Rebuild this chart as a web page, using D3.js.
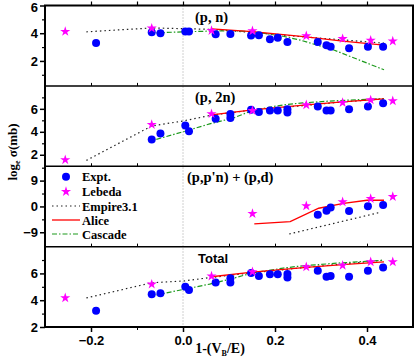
<!DOCTYPE html>
<html>
<head>
<meta charset="utf-8">
<script src="https://cdn.jsdelivr.net/npm/d3@7/dist/d3.min.js"></script>
<style>
  body { margin: 0; background: #fff; }
  svg { display: block; }
</style>
</head>
<body>
<svg id="chart"></svg>
<script>
// experimental points (same x for every panel, null = not measured)
const xExpt = [-0.189, -0.068, -0.049, 0.005, 0.013, 0.071, 0.103, 0.148, 0.165, 0.189, 0.206, 0.227, 0.293, 0.312, 0.321, 0.361, 0.402, 0.435];
const pnExpt = [3.29, 4.07, 4.00, 4.12, 4.12, 3.93, 3.95, 3.84, 3.86, 3.57, 3.67, 3.36, 3.36, 3.14, 3.03, 2.91, 3.03, 3.03];
const p2nExpt = [null, 3.34, 3.85, 4.54, 4.05, 5.14, 5.55, 5.91, 5.72, 5.85, 5.85, 5.97, 6.20, 5.85, 5.85, 5.97, 6.20, 6.49];
const ppnExpt = [null, null, null, null, null, null, null, null, null, null, null, null, -2.86, -1.46, -0.40, -1.57, 0.07, 0.50];
const totExpt = [3.21, 4.44, 4.52, 5.00, 4.76, 5.33, 5.63, 6.04, 5.80, 5.93, 5.93, 5.95, 6.19, 5.75, 5.80, 5.75, 6.19, 6.44];
// second measurement at a few energies
const extraX = [0.103, 0.227];
const p2nExtra = [5.20, 5.68];
const totExtra = [5.33, 5.70];

// Lebeda
const xLeb = [-0.256, -0.068, 0.062, 0.151, 0.268, 0.347, 0.408, 0.456];
const pnLeb = [4.12, 4.36, 4.19, 4.17, 3.81, 3.60, 3.48, 3.43];
const p2nLeb = [1.56, 4.63, 5.57, 5.85, 6.34, 6.54, 6.77, 6.69];
const ppnLeb = [null, null, null, -2.5, 0.17, 1.57, 2.70, 3.40];
const totLeb = [4.17, 5.19, 5.80, 6.12, 6.49, 6.60, 6.86, 6.86];

// Empire3.1
const xEmp = [-0.21, -0.068, 0, 0.062, 0.151, 0.268, 0.347, 0.437];
const pnEmp = [4.10, 4.38, 4.33, 4.28, 4.05, 3.72, 3.52, 3.28];
const p2nEmp = [1.51, 4.51, 4.94, 5.45, 5.90, 6.30, 6.60, 6.86];
const totEmp = [4.17, 5.30, 5.43, 5.70, 6.05, 6.45, 6.70, 6.99];
const xEmpPpn = [0.231, 0.328, 0.43];
const ppnEmp = [-9.6, -5.9, -2.0];

// Alice
const xAli = [0.062, 0.151, 0.268, 0.347, 0.437];
const pnAli = [4.31, 4.12, 3.74, 3.43, 3.14];
const p2nAli = [5.48, 5.91, 6.34, 6.60, 6.86];
const totAli = [5.75, 6.10, 6.45, 6.65, 6.86];
const xAliPpn = [0.155, 0.233, 0.295, 0.349, 0.400, 0.437];
const ppnAli = [-6.1, -5.3, -0.63, 1.1, 2.16, 2.16];

// Cascade
const xCas = [-0.058, 0, 0.058, 0.109, 0.151, 0.182, 0.218, 0.255, 0.328, 0.437];
const pnCas = [4.03, 4.10, 4.15, 4.19, 4.10, 3.96, 3.78, 3.50, 2.79, 1.36];
const p2nCas = [3.34, 4.00, 4.69, 5.20, 5.85, 6.10, 6.34, 6.50, 6.70, 6.90];
const totCas = [4.39, 4.80, 5.20, 5.63, 6.04, 6.20, 6.40, 6.55, 6.75, 6.99];

const xTicks = [-0.2, 0.0, 0.2, 0.4];
const legendNames = ["Expt.", "Lebeda", "Empire3.1", "Alice", "Cascade"];

const zip = (xs, ys) => xs.map((x, i) => [x, ys[i]]).filter(d => d[1] != null);

const panels = [
  { title: "(p, n)", domain: [0.2, 6], major: [2, 4, 6], minor: [1, 3, 5],
    expt: zip(xExpt, pnExpt), leb: zip(xLeb, pnLeb),
    emp: zip(xEmp, pnEmp), ali: zip(xAli, pnAli), cas: zip(xCas, pnCas) },
  { title: "(p, 2n)", domain: [1, 8], major: [2, 4, 6], minor: [3, 5, 7],
    expt: zip(xExpt, p2nExpt).concat(zip(extraX, p2nExtra)), leb: zip(xLeb, p2nLeb),
    emp: zip(xEmp, p2nEmp), ali: zip(xAli, p2nAli), cas: zip(xCas, p2nCas) },
  { title: "(p,p'n) + (p,d)", domain: [-14, 14], major: [-9, 0, 9], minor: [-4.5, 4.5, 13.5],
    expt: zip(xExpt, ppnExpt), leb: zip(xLeb, ppnLeb),
    emp: zip(xEmpPpn, ppnEmp), ali: zip(xAliPpn, ppnAli), cas: [] },
  { title: "Total", sans: true, domain: [2, 8], major: [2, 4, 6], minor: [3, 5, 7],
    expt: zip(xExpt, totExpt).concat(zip(extraX, totExtra)), leb: zip(xLeb, totLeb),
    emp: zip(xEmp, totEmp), ali: zip(xAli, totAli), cas: zip(xCas, totCas) }
];

const width = 415, height = 362;
const mLeft = 45, mRight = 413, mTop = 5.5, mBottom = 327;
const panelH = (mBottom - mTop) / panels.length;

const svg = d3.select("#chart").attr("width", width).attr("height", height);

const x = d3.scaleLinear().domain([-0.3, 0.5]).range([mLeft, mRight]);

const blue = "#0000ff", magenta = "#ff00ff", red = "#ff0000", green = "#1c9a1c";
const serif = "'Liberation Serif', 'Times New Roman', serif";
const sans = "'Liberation Sans', Arial, sans-serif";

const star = d3.symbol().type(d3.symbolStar).size(32);

// vertical dotted line at zero
svg.append("line")
  .attr("x1", x(0)).attr("x2", x(0))
  .attr("y1", mTop).attr("y2", mBottom)
  .attr("stroke", "#888").attr("stroke-width", 0.8)
  .attr("stroke-dasharray", "1,2");

panels.forEach((p, i) => {
  const y0 = mTop + i * panelH, y1 = y0 + panelH;
  const y = d3.scaleLinear().domain(p.domain).range([y1, y0]);
  const g = svg.append("g");

  // y axis
  g.append("g").attr("transform", `translate(${mLeft},0)`)
    .call(d3.axisLeft(y).tickValues(p.major).tickSize(5).tickFormat(d3.format("d")))
    .call(a => a.select(".domain").remove())
    .call(a => a.selectAll("line").attr("stroke-width", 1.5))
    .call(a => a.selectAll("text").attr("font-family", sans).attr("font-weight", "bold")
      .attr("font-size", 13).attr("fill", "#000").attr("x", -7)
      .attr("dy", d => (i === 0 && d === 6) ? "0.45em" : "0.32em"));
  g.append("g").attr("transform", `translate(${mLeft},0)`)
    .call(d3.axisLeft(y).tickValues(p.minor).tickSize(3).tickFormat(""))
    .call(a => a.select(".domain").remove())
    .call(a => a.selectAll("line").attr("stroke-width", 1.2));

  // small ticks along the panel bottom
  if (i < panels.length - 1) {
    g.append("g").attr("transform", `translate(0,${y1})`)
      .call(d3.axisTop(x).tickValues([-0.2, -0.1, 0.1, 0.2, 0.3, 0.4]).tickSize(3).tickFormat(""))
      .call(a => a.select(".domain").remove());
  }

  const clipId = "clip" + i;
  g.append("clipPath").attr("id", clipId).append("rect")
    .attr("x", mLeft).attr("y", y0).attr("width", mRight - mLeft).attr("height", panelH);
  const plot = g.append("g").attr("clip-path", `url(#${clipId})`);

  const line = d3.line().x(d => x(d[0])).y(d => y(d[1]));

  plot.append("path").datum(p.emp).attr("d", line)
    .attr("fill", "none").attr("stroke", "#222").attr("stroke-width", 1.2)
    .attr("stroke-dasharray", "1.5,3");
  if (p.cas.length) {
    plot.append("path").datum(p.cas).attr("d", line)
      .attr("fill", "none").attr("stroke", green).attr("stroke-width", 1.2)
      .attr("stroke-dasharray", "5,2,1.5,2");
  }
  plot.append("path").datum(p.ali).attr("d", line)
    .attr("fill", "none").attr("stroke", red).attr("stroke-width", 1.3);

  plot.selectAll(".expt").data(p.expt).join("circle")
    .attr("cx", d => x(d[0])).attr("cy", d => y(d[1])).attr("r", 4)
    .attr("fill", blue);

  g.selectAll(".leb").data(p.leb).join("path")
    .attr("d", star)
    .attr("transform", d => `translate(${x(d[0])},${y(d[1])})`)
    .attr("fill", magenta);

  g.append("text")
    .attr("x", p.sans ? 198 : (i === 2 ? 187 : 195))
    .attr("y", y0 + 16)
    .attr("font-family", p.sans ? sans : serif)
    .attr("font-weight", "bold").attr("font-size", p.sans ? 13 : 14.5)
    .text(p.title);

  // separators
  g.append("line").attr("x1", mLeft).attr("x2", mRight).attr("y1", y1).attr("y2", y1)
    .attr("stroke", "#000").attr("stroke-width", 1.5);
});

// outer frame
svg.append("rect").attr("x", mLeft).attr("y", mTop)
  .attr("width", mRight - mLeft).attr("height", mBottom - mTop)
  .attr("fill", "none").attr("stroke", "#000").attr("stroke-width", 2);

// top axis ticks
svg.append("g").attr("transform", `translate(0,${mTop})`)
  .call(d3.axisTop(x).tickValues([-0.2, -0.1, 0, 0.1, 0.2, 0.3, 0.4]).tickSize(4).tickFormat(""))
  .call(a => a.select(".domain").remove())
  .call(a => a.selectAll("line").attr("stroke-width", 1.2));

// bottom axis
svg.append("g").attr("transform", `translate(0,${mBottom})`)
  .call(d3.axisBottom(x).tickValues(xTicks).tickSize(5).tickFormat(d3.format(".1f")))
  .call(a => a.select(".domain").remove())
  .call(a => a.selectAll("line").attr("stroke-width", 1.5))
  .call(a => a.selectAll("text").attr("font-family", sans).attr("font-weight", "bold")
    .attr("font-size", 13).attr("fill", "#000").attr("y", 9));
svg.append("g").attr("transform", `translate(0,${mBottom})`)
  .call(d3.axisBottom(x).tickValues([-0.1, 0.1, 0.3]).tickSize(3).tickFormat(""))
  .call(a => a.select(".domain").remove());

// axis titles
const xl = svg.append("text").attr("x", 220).attr("y", 353)
  .attr("text-anchor", "middle").attr("font-family", serif)
  .attr("font-weight", "bold").attr("font-size", 14);
xl.append("tspan").text("1-(V");
xl.append("tspan").attr("font-size", 8).attr("dy", 3).text("B");
xl.append("tspan").attr("dy", -3).text("/E)");

const yl = svg.append("text")
  .attr("transform", "translate(17,152) rotate(-90)")
  .attr("text-anchor", "middle").attr("font-family", serif)
  .attr("font-weight", "bold").attr("font-size", 13);
yl.append("tspan").text("log");
yl.append("tspan").attr("font-size", 8).attr("dy", 3).text("e");
yl.append("tspan").attr("dy", -3).text(" σ(mb)");

// legend inside third panel
const lg = svg.append("g").attr("font-family", serif).attr("font-weight", "bold").attr("font-size", 12.5);
const legY = [176.7, 191.7, 206, 220, 234];
legendNames.forEach((name, k) => {
  const ly = legY[k];
  if (k === 0) lg.append("circle").attr("cx", 66).attr("cy", ly).attr("r", 4).attr("fill", blue);
  if (k === 1) lg.append("path").attr("d", star).attr("transform", `translate(66,${ly})`).attr("fill", magenta);
  if (k === 2) lg.append("line").attr("x1", 52).attr("x2", 80).attr("y1", ly).attr("y2", ly)
    .attr("stroke", "#222").attr("stroke-width", 1.2).attr("stroke-dasharray", "1.5,3");
  if (k === 3) lg.append("line").attr("x1", 52).attr("x2", 80).attr("y1", ly).attr("y2", ly)
    .attr("stroke", red).attr("stroke-width", 1.3);
  if (k === 4) lg.append("line").attr("x1", 52).attr("x2", 80).attr("y1", ly).attr("y2", ly)
    .attr("stroke", green).attr("stroke-width", 1.2).attr("stroke-dasharray", "5,2,1.5,2");
  lg.append("text").attr("x", 82).attr("y", ly + 4.5).text(name);
});
</script>
</body>
</html>
